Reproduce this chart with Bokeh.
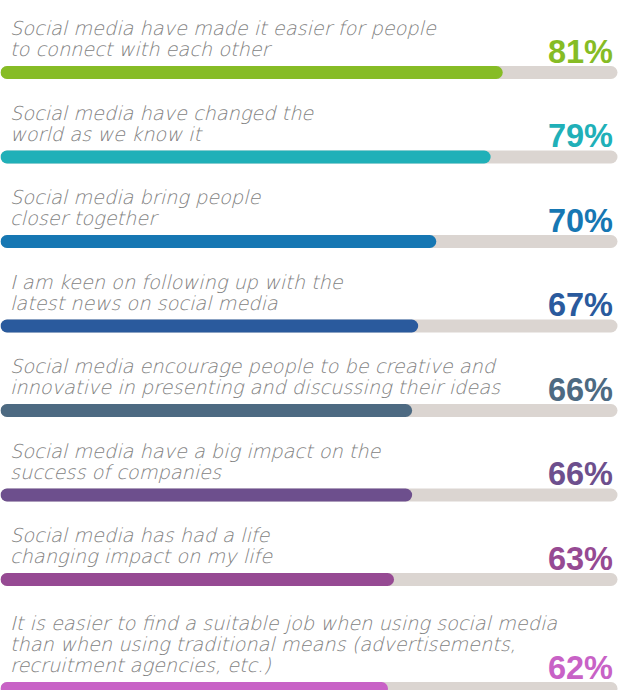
from bokeh.plotting import figure
from bokeh.models import Range1d
from bokeh.core.properties import value
from bokeh.embed import file_html
from bokeh.resources import INLINE

# ---- data -------------------------------------------------------------
statements = [
    "Social media have made it easier for people\nto connect with each other",
    "Social media have changed the\nworld as we know it",
    "Social media bring people\ncloser together",
    "I am keen on following up with the\nlatest news on social media",
    "Social media encourage people to be creative and\ninnovative in presenting and discussing their ideas",
    "Social media have a big impact on the\nsuccess of companies",
    "Social media has had a life\nchanging impact on my life",
    "It is easier to find a suitable job when using social media\nthan when using traditional means (advertisements,\nrecruitment agencies, etc.)",
]
values = [81, 79, 70, 67, 66, 66, 63, 62]

palette = ["#86bc25", "#20b0b8", "#1677b3", "#2a5a9d", "#4d6a82",
           "#6d4f8d", "#964a93", "#c862c6"]
track_color = "#dbd5d1"
label_color = "#7e7e7e"

# ---- layout (row positions in page-pixel units) -------------------------
first_bar = 72.0
row_base, line_step = 35.5, 24.5
bar_y = []
for i, s in enumerate(statements):
    n = s.count("\n") + 1
    if i == 0:
        bar_y.append(first_bar)
    else:
        bar_y.append(bar_y[-1] + row_base + line_step * n)

W, H = 618, 690
thick = 13
cap = thick / 2.0
scale = (W - 1 - 2 * cap) / 100.0   # px per percentage point
x0 = -cap / scale
p = figure(width=W, height=H, output_backend="svg", toolbar_location=None,
           x_range=Range1d(x0, x0 + W / scale), y_range=Range1d(H, 0),
           min_border=0, outline_line_color=None, background_fill_color="white",
           border_fill_color="white")
p.axis.visible = False
p.grid.visible = False

# tracks
p.segment(x0=[0] * len(values), x1=[100] * len(values), y0=bar_y, y1=bar_y,
          line_width=thick, line_cap="round", line_color=track_color)
# bars
p.segment(x0=[0] * len(values), x1=values, y0=bar_y, y1=bar_y,
          line_width=thick, line_cap="round", line_color=palette)

# labels (one glyph row per text line)
lx, ly, lt = [], [], []
for s, y in zip(statements, bar_y):
    lines = s.split("\n")
    n = len(lines)
    for j, ln in enumerate(lines):
        lx.append(0)
        ly.append(y - 23 - 21 * (n - 1 - j))
        lt.append(ln)
p.text(x=lx, y=ly, text=lt, text_align="left", text_baseline="alphabetic",
       x_offset=3, text_font=value("DejaVu Sans Light"), text_font_style="italic",
       text_font_size="19.3px", text_color=label_color)

# percentages
p.text(x=[100] * len(values), y=[y - 21 for y in bar_y],
       text=[f"{v}%" for v in values], text_align="right",
       text_baseline="alphabetic", x_offset=2,
       text_font=value("Liberation Sans"), text_font_style="bold",
       text_font_size="32.5px", text_color=palette)

open("out.html", "w").write(file_html(p, INLINE))
